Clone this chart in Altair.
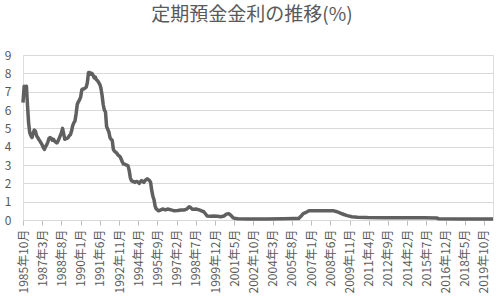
import altair as alt
import pandas as pd

months = [
    "1985-10", "1985-11", "1985-12", "1986-01", "1986-02", "1986-03", "1986-04", "1986-05",
    "1986-06", "1986-07", "1986-08", "1986-09", "1986-10", "1986-11", "1986-12", "1987-01",
    "1987-02", "1987-03", "1987-04", "1987-05", "1987-06", "1987-07", "1987-08", "1987-09",
    "1987-10", "1987-11", "1987-12", "1988-01", "1988-02", "1988-03", "1988-04", "1988-05",
    "1988-06", "1988-07", "1988-08", "1988-09", "1988-10", "1988-11", "1988-12", "1989-01",
    "1989-02", "1989-03", "1989-04", "1989-05", "1989-06", "1989-07", "1989-08", "1989-09",
    "1989-10", "1989-11", "1989-12", "1990-01", "1990-02", "1990-03", "1990-04", "1990-05",
    "1990-06", "1990-07", "1990-08", "1990-09", "1990-10", "1990-11", "1990-12", "1991-01",
    "1991-02", "1991-03", "1991-04", "1991-05", "1991-06", "1991-07", "1991-08", "1991-09",
    "1991-10", "1991-11", "1991-12", "1992-01", "1992-02", "1992-03", "1992-04", "1992-05",
    "1992-06", "1992-07", "1992-08", "1992-09", "1992-10", "1992-11", "1992-12", "1993-01",
    "1993-02", "1993-03", "1993-04", "1993-05", "1993-06", "1993-07", "1993-08", "1993-09",
    "1993-10", "1993-11", "1993-12", "1994-01", "1994-02", "1994-03", "1994-04", "1994-05",
    "1994-06", "1994-07", "1994-08", "1994-09", "1994-10", "1994-11", "1994-12", "1995-01",
    "1995-02", "1995-03", "1995-04", "1995-05", "1995-06", "1995-07", "1995-08", "1995-09",
    "1995-10", "1995-12", "1996-02", "1996-04", "1996-06", "1996-09", "1996-12", "1997-03",
    "1997-06", "1997-09", "1997-11", "1998-01", "1998-02", "1998-04", "1998-07", "1998-10",
    "1998-12", "1999-02", "1999-04", "1999-05", "1999-08", "1999-11", "2000-02", "2000-05",
    "2000-08", "2000-10", "2000-12", "2001-02", "2001-04", "2001-05", "2001-08", "2002-06",
    "2003-09", "2004-12", "2005-10", "2006-02", "2006-04", "2006-06", "2006-08", "2006-11",
    "2007-02", "2007-11", "2008-09", "2008-12", "2009-03", "2009-06", "2009-09", "2010-01",
    "2010-06", "2011-03", "2012-06", "2014-02", "2015-05", "2016-04", "2016-06", "2018-04",
    "2020-06",
]

rates = [
    6.4, 7.3, 7.05, 7.3, 6.2, 5.3, 4.75, 4.6,
    4.5, 4.75, 4.9, 4.85, 4.6, 4.5, 4.4, 4.3,
    4.2, 4.1, 3.95, 3.85, 4.0, 4.1, 4.25, 4.45,
    4.5, 4.45, 4.35, 4.4, 4.3, 4.25, 4.2, 4.3,
    4.45, 4.6, 4.75, 5.0, 4.7, 4.4, 4.45, 4.45,
    4.5, 4.6, 4.65, 4.85, 5.15, 5.3, 5.4, 5.8,
    6.3, 6.45, 6.55, 6.7, 7.1, 7.15, 7.15, 7.2,
    7.25, 7.5, 8.05, 8.05, 7.95, 8.0, 7.9, 7.75,
    7.8, 7.65, 7.6, 7.5, 7.4, 7.2, 6.8, 6.3,
    6.0, 5.9, 5.1, 4.95, 4.8, 4.5, 4.4, 4.35,
    3.85, 3.75, 3.7, 3.65, 3.55, 3.5, 3.45, 3.3,
    3.15, 3.05, 3.05, 3.0, 3.0, 2.95, 2.7, 2.3,
    2.15, 2.1, 2.1, 2.05, 2.1, 2.1, 2.05, 2.0,
    2.1, 2.15, 2.1, 2.05, 2.15, 2.2, 2.25, 2.2,
    2.15, 2.05, 1.6, 1.3, 1.1, 0.75, 0.6, 0.55,
    0.5, 0.55, 0.6, 0.55, 0.6, 0.55, 0.5, 0.52,
    0.55, 0.55, 0.6, 0.72, 0.7, 0.58, 0.6, 0.55,
    0.5, 0.45, 0.3, 0.22, 0.2, 0.22, 0.2, 0.18,
    0.22, 0.32, 0.35, 0.25, 0.12, 0.1, 0.07, 0.06,
    0.06, 0.07, 0.08, 0.08, 0.2, 0.35, 0.4, 0.5,
    0.5, 0.5, 0.5, 0.45, 0.37, 0.3, 0.24, 0.18,
    0.15, 0.13, 0.12, 0.12, 0.12, 0.11, 0.07, 0.06,
    0.05,
]

tick_months = [
    "1985-10", "1987-03", "1988-08", "1990-01", "1991-06", "1992-11", "1994-04",
    "1995-09", "1997-02", "1998-07", "1999-12", "2001-05", "2002-10", "2004-03",
    "2005-08", "2007-01", "2008-06", "2009-11", "2011-04", "2012-09", "2014-02",
    "2015-07", "2016-12", "2018-05", "2019-10",
]

y_ticks = [0, 1, 2, 3, 4, 5, 6, 7, 8, 9]

title_text = "定期預金金利の推移(%)"

df = pd.DataFrame({"date": [m + "-01" for m in months], "rate": rates})


def dt(ym):
    y, m = ym.split("-")
    return alt.DateTime(year=int(y), month=int(m), date=1, utc=True)


FONT = "Noto Sans CJK JP"
GREY = "#595959"

chart = (
    alt.Chart(df)
    .mark_line(color="#606060", strokeWidth=3.5, strokeJoin="round")
    .encode(
        x=alt.X(
            "date:T",
            scale=alt.Scale(type="utc", domain=[dt(months[0]), dt(months[-1])]),
            axis=alt.Axis(
                title=None,
                values=[dt(t) for t in tick_months],
                labelExpr="utcFormat(datum.value, '%Y年%-m月')",
                labelAngle=270,
                labelAlign="right",
                labelBaseline="middle",
                labelPadding=4,
                labelFontSize=12,
                labelColor=GREY,
                labelFont=FONT,
                labelOverlap=False,
                labelFlush=False,
                grid=False,
                domainColor="#d9d9d9",
                tickColor="#bfbfbf",
                tickSize=5,
            ),
        ),
        y=alt.Y(
            "rate:Q",
            scale=alt.Scale(domain=[0, 9], nice=False),
            axis=alt.Axis(
                title=None,
                values=y_ticks,
                grid=True,
                gridColor="#d9d9d9",
                gridWidth=1,
                domain=False,
                ticks=False,
                labelPadding=12,
                labelFontSize=12,
                labelColor=GREY,
                labelFont=FONT,
            ),
        ),
    )
    .properties(
        width=470,
        height=165,
        padding={"left": 23, "top": 55, "right": 7, "bottom": 76},
        autosize=alt.AutoSizeParams(type="none"),
        title=alt.TitleParams(
            title_text,
            fontSize=19,
            color=GREY,
            font=FONT,
            fontWeight="normal",
            anchor="middle",
            offset=24,
            dx=-6,
        ),
    )
    .configure_view(stroke=None)
    .configure(background="white")
)

chart.save("out.html", embed_options={"renderer": "svg", "actions": False})
